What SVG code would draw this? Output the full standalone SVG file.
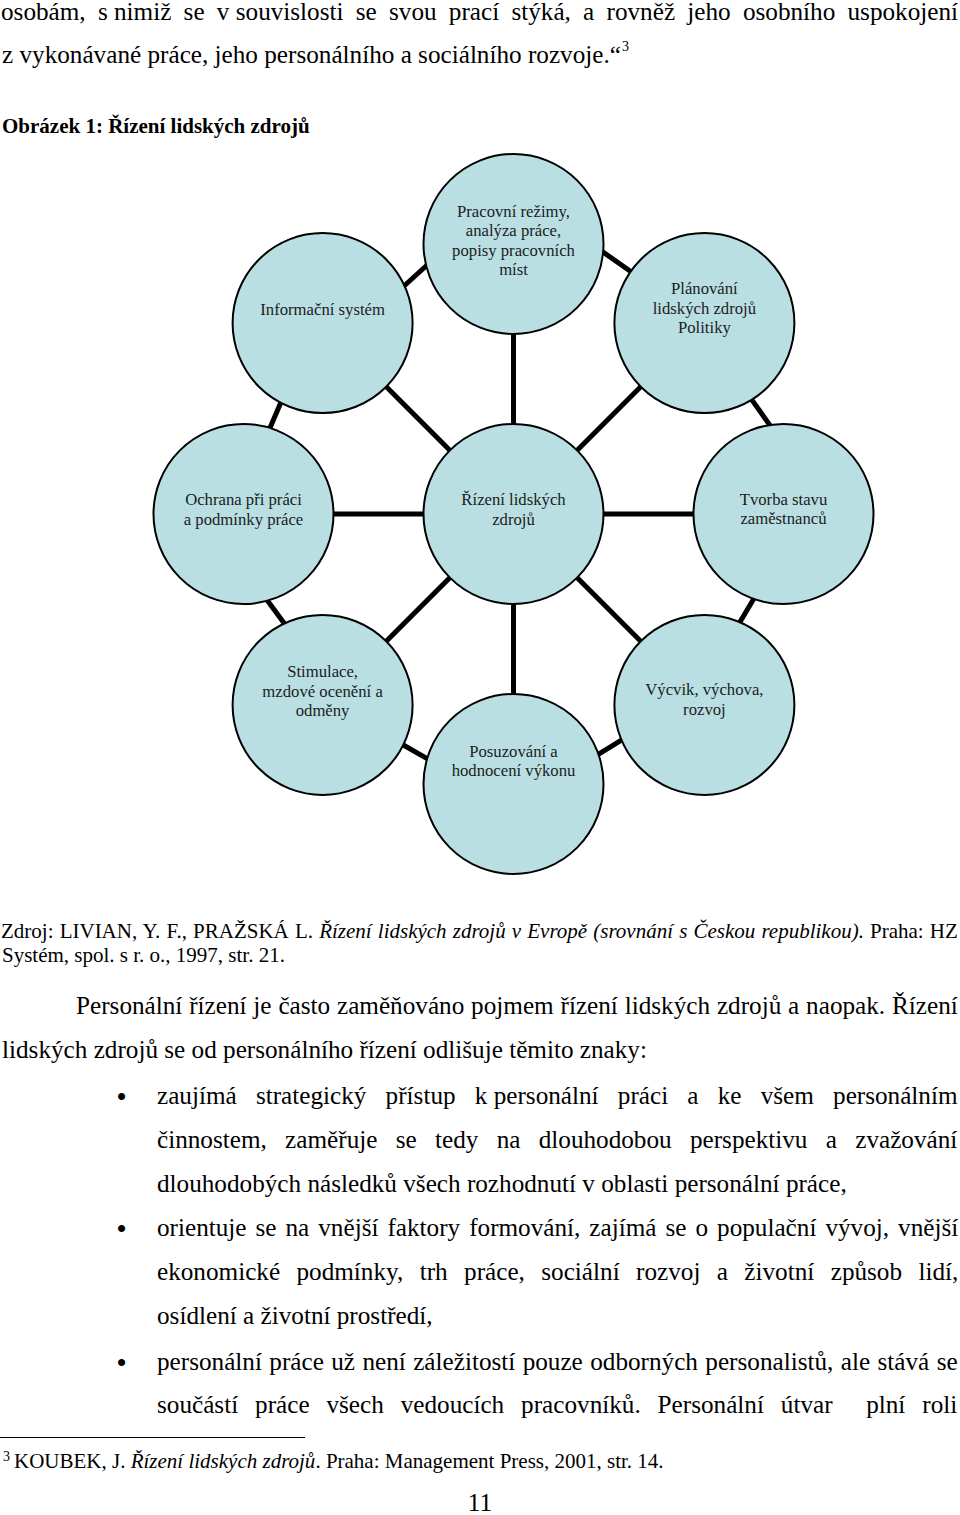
<svg xmlns="http://www.w3.org/2000/svg" width="960" height="1515" viewBox="0 0 960 1515">
<style>
.bg{fill:#fff}
.node circle{fill:#B9DFE3;stroke:#000;stroke-width:2}
.node text{font-family:"Liberation Serif","Times New Roman",serif;font-size:16.7px;fill:#1c1c1c;text-anchor:middle}
.conn line{stroke:#000;stroke-width:5;stroke-linecap:butt}
.body{font-family:"Liberation Serif","Times New Roman",serif;font-size:25.2px;fill:#000}
.small{font-family:"Liberation Serif","Times New Roman",serif;font-size:21px;fill:#000}
.title{font-family:"Liberation Serif","Times New Roman",serif;font-size:21px;font-weight:bold;fill:#000}
.sup{font-family:"Liberation Serif","Times New Roman",serif;font-size:14px;fill:#000}
.it{font-style:italic}
.bullet{font-family:"Liberation Sans",Arial,sans-serif;font-size:26px;fill:#000}
</style>
<rect class="bg" x="0" y="0" width="960" height="1515"/>

<text class="body" x="1" y="20" word-spacing="5.95">osobám, s<tspan dx="6.3">nimiž se v</tspan><tspan dx="6.3">souvislosti se svou prací stýká, a rovněž jeho osobního uspokojení</tspan></text>
<text class="body" x="2" y="63">z vykonávané práce, jeho personálního a sociálního rozvoje.“</text>
<text class="sup" x="622" y="51">3</text>
<text class="title" x="2" y="133">Obrázek 1: Řízení lidských zdrojů</text>

<g id="connectors" class="conn">
<line x1="513.5" y1="426" x2="513.5" y2="332"/>
<line x1="575.73" y1="451.77" x2="642.19" y2="385.31"/>
<line x1="601.5" y1="514" x2="695.5" y2="514"/>
<line x1="575.73" y1="576.23" x2="642.19" y2="642.69"/>
<line x1="513.5" y1="602" x2="513.5" y2="696"/>
<line x1="451.27" y1="576.23" x2="384.81" y2="642.69"/>
<line x1="425.5" y1="514" x2="331.5" y2="514"/>
<line x1="451.27" y1="451.77" x2="384.81" y2="385.31"/>
<line x1="400.8" y1="289" x2="428.2" y2="264"/>
<line x1="600.5" y1="250.3" x2="632.5" y2="272.7"/>
<line x1="750.3" y1="397.6" x2="770.7" y2="426.4"/>
<line x1="754.5" y1="597.4" x2="738.5" y2="624.6"/>
<line x1="624.3" y1="738.4" x2="597.4" y2="754.9"/>
<line x1="429.3" y1="759.8" x2="400.7" y2="743.5"/>
<line x1="285.8" y1="625.4" x2="265.2" y2="597.6"/>
<line x1="268.8" y1="430.8" x2="282.2" y2="399.2"/>
</g>

<g id="node-center" class="node">
<circle cx="513.5" cy="514" r="90"/>
<text x="513.5" y="505">Řízení lidských</text>
<text x="513.5" y="525">zdrojů</text>
</g>
<g id="node-pracovni" class="node">
<circle cx="513.5" cy="244" r="90"/>
<text x="513.5" y="217">Pracovní režimy,</text>
<text x="513.5" y="236">analýza práce,</text>
<text x="513.5" y="256">popisy pracovních</text>
<text x="513.5" y="275">míst</text>
</g>
<g id="node-informacni" class="node">
<circle cx="322.6" cy="323.1" r="90"/>
<text x="322.6" y="315">Informační systém</text>
</g>
<g id="node-planovani" class="node">
<circle cx="704.4" cy="323.1" r="90"/>
<text x="704.4" y="294">Plánování</text>
<text x="704.4" y="314">lidských zdrojů</text>
<text x="704.4" y="333">Politiky</text>
</g>
<g id="node-ochrana" class="node">
<circle cx="243.5" cy="514" r="90"/>
<text x="243.5" y="505">Ochrana při práci</text>
<text x="243.5" y="525">a podmínky práce</text>
</g>
<g id="node-tvorba" class="node">
<circle cx="783.5" cy="514" r="90"/>
<text x="783.5" y="505">Tvorba stavu</text>
<text x="783.5" y="524">zaměstnanců</text>
</g>
<g id="node-stimulace" class="node">
<circle cx="322.6" cy="704.9" r="90"/>
<text x="322.6" y="677">Stimulace,</text>
<text x="322.6" y="697">mzdové ocenění a</text>
<text x="322.6" y="716">odměny</text>
</g>
<g id="node-posuzovani" class="node">
<circle cx="513.5" cy="784" r="90"/>
<text x="513.5" y="757">Posuzování a</text>
<text x="513.5" y="776">hodnocení výkonu</text>
</g>
<g id="node-vycvik" class="node">
<circle cx="704.4" cy="704.9" r="90"/>
<text x="704.4" y="695">Výcvik, výchova,</text>
<text x="704.4" y="715">rozvoj</text>
</g>

<text class="small" x="1" y="938" word-spacing="0.9">Zdroj: LIVIAN, Y. F., PRAŽSKÁ L. <tspan class="it">Řízení lidských zdrojů v Evropě (srovnání s Českou republikou).</tspan> Praha: HZ</text>
<text class="small" x="2" y="962">Systém, spol. s r. o., 1997, str. 21.</text>

<text class="body" x="76" y="1014" word-spacing="0.55">Personální řízení je často zaměňováno pojmem řízení lidských zdrojů a naopak. Řízení</text>
<text class="body" x="2" y="1058">lidských zdrojů se od personálního řízení odlišuje těmito znaky:</text>

<text class="bullet" x="117" y="1105">•</text>
<text class="body" x="157" y="1104" word-spacing="12.9">zaujímá strategický přístup k<tspan dx="6.3">personální práci a ke všem personálním</tspan></text>
<text class="body" x="157" y="1148" word-spacing="12">činnostem, zaměřuje se tedy na dlouhodobou perspektivu a zvažování</text>
<text class="body" x="157" y="1192">dlouhodobých následků všech rozhodnutí v oblasti personální práce,</text>
<text class="bullet" x="117" y="1237">•</text>
<text class="body" x="157" y="1236" word-spacing="2.7">orientuje se na vnější faktory formování, zajímá se o populační vývoj, vnější</text>
<text class="body" x="157" y="1280" word-spacing="10.1">ekonomické podmínky, trh práce, sociální rozvoj a životní způsob lidí,</text>
<text class="body" x="157" y="1324">osídlení a životní prostředí,</text>
<text class="bullet" x="117" y="1371">•</text>
<text class="body" x="157" y="1370" word-spacing="1.1">personální práce už není záležitostí pouze odborných personalistů, ale stává se</text>
<text class="body" x="157" y="1413" word-spacing="10.6">součástí práce všech vedoucích pracovníků. Personální útvar<tspan dx="33.6">plní roli</tspan></text>

<line x1="0" y1="1437.5" x2="305" y2="1437.5" stroke="#000" stroke-width="1"/>
<text class="sup" x="3" y="1461">3</text>
<text class="small" x="14" y="1468">KOUBEK, J. <tspan class="it">Řízení lidských zdrojů</tspan>. Praha: Management Press, 2001, str. 14.</text>
<text class="body" x="480" y="1511" text-anchor="middle">11</text>
</svg>
